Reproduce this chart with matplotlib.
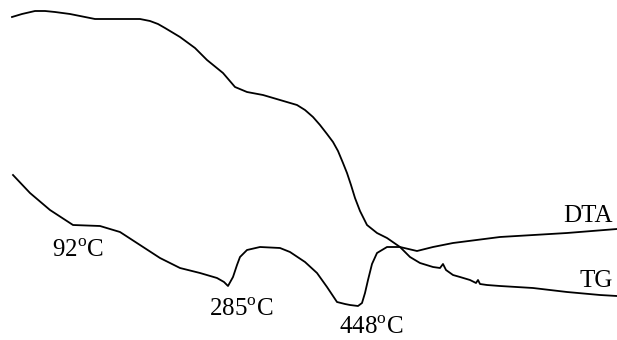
import matplotlib.pyplot as plt

plt.rcParams["mathtext.fontset"] = "custom"
plt.rcParams["mathtext.rm"] = "Liberation Serif"

# --- TG curve (upper), traced positions in image pixels
tg_x = [12, 22, 35, 45, 55, 70, 85, 95, 120, 140, 150, 158, 165, 180, 195, 207, 223, 235,
        247, 263, 280, 297, 305, 313, 320, 327, 333, 338, 343, 347, 351, 355, 360, 367, 377,
        387, 400, 410, 420, 433, 440, 443, 446, 453, 460, 470, 476, 478, 480, 487, 500,
        533, 567, 600, 617]
tg_y = [17, 14, 11, 11, 12, 14, 17, 19, 19, 19, 21, 24, 28, 37, 48, 60, 73, 87,
        92, 95, 100, 105, 110, 117, 125, 134, 142, 151, 163, 173, 185, 198, 211, 225, 233,
        238, 247, 257, 263, 267, 268, 264, 270, 275, 277, 280, 283, 280, 284, 285, 286,
        288, 292, 295, 296]

# --- DTA curve (lower)
dta_x = [13, 30, 50, 73, 100, 120, 140, 160, 180, 200, 217, 224, 228, 233, 237, 240,
         247, 260, 280, 290, 305, 317, 327, 337, 345, 350, 358, 362, 365, 368, 372, 377,
         387, 400, 417, 433, 453, 500, 567, 617]
dta_y = [175, 193, 210, 225, 226, 232, 245, 258, 268, 273, 278, 282, 286, 277, 265, 257,
         250, 247, 248, 252, 262, 273, 287, 302, 304, 305, 306, 303, 293, 280, 264, 253,
         247, 247, 251, 247, 243, 237, 233, 229]

# --- annotations
labels = ["92$^{\\mathrm{o}}$C", "285$^{\\mathrm{o}}$C", "448$^{\\mathrm{o}}$C", "DTA", "TG"]
label_x = [52, 209, 339, 613, 613]
label_y = [257, 316, 334, 222, 287]
label_ha = ["left", "left", "left", "right", "right"]

fig = plt.figure(figsize=(6.17, 3.40), dpi=100)
ax = fig.add_axes([0, 0, 1, 1])

ax.plot(tg_x, tg_y, color="black", linewidth=1.3)
ax.plot(dta_x, dta_y, color="black", linewidth=1.3)

for s, x, y, ha in zip(labels, label_x, label_y, label_ha):
    ax.text(x, y, s, ha=ha, va="baseline", fontsize=18,
            family="Liberation Serif", color="black")

ax.set_xlim(0, 617)
ax.set_ylim(340, 0)
ax.axis("off")

fig.savefig("out.png", dpi=100)
